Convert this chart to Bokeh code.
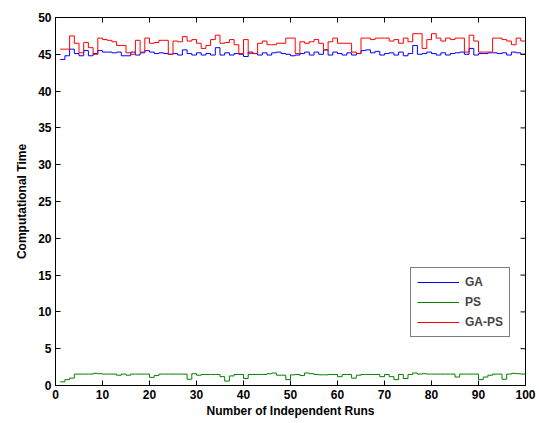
from bokeh.plotting import figure
from bokeh.models import Range1d, Legend, LegendItem, FixedTicker
from bokeh.embed import file_html
from bokeh.resources import INLINE

runs = list(range(1, 101))

ga = [44.3, 44.8, 45.7, 45.1, 44.8, 45.5, 44.8, 45.1, 45.5, 45.3,
      45.3, 45.2, 45.3, 44.8, 44.8, 45.3, 44.9, 45.2, 45.5, 45.3,
      45.1, 45.2, 45.1, 45.0, 45.1, 44.9, 45.6, 45.1, 44.9, 45.2,
      44.9, 45.1, 44.9, 45.9, 44.9, 45.2, 44.9, 45.1, 45.0, 44.7,
      45.3, 45.1, 44.9, 45.2, 44.9, 45.2, 45.3, 45.1, 45.0, 44.8,
      44.9, 45.1, 45.3, 44.9, 45.3, 45.0, 45.6, 44.9, 45.3, 45.1,
      44.9, 45.2, 44.9, 45.1, 45.5, 45.6, 45.2, 45.4, 44.9, 45.1,
      45.2, 44.9, 45.3, 44.8, 45.1, 46.2, 45.0, 45.1, 45.3, 45.1,
      44.9, 45.2, 44.9, 45.1, 45.2, 45.3, 45.0, 45.8, 44.9, 45.1,
      45.1, 45.2, 45.2, 45.1, 45.2, 44.9, 45.3, 45.2, 45.0, 45.0]

ps = [0.5, 0.8, 1.0, 1.55, 1.55, 1.55, 1.55, 1.65, 1.6, 1.55,
      1.55, 1.55, 1.4, 1.55, 1.4, 1.55, 1.55, 1.55, 1.55, 1.1,
      1.35, 1.55, 1.55, 1.55, 1.55, 1.55, 1.55, 0.85, 1.6, 1.4,
      1.5, 1.5, 1.5, 1.5, 1.2, 0.6, 1.3, 1.5, 1.5, 0.95,
      1.5, 1.5, 1.5, 1.5, 1.6, 1.7, 1.4, 1.4, 0.8, 1.45,
      1.5, 1.35, 1.7, 1.6, 1.5, 1.45, 1.45, 1.5, 1.5, 1.2,
      1.5, 1.5, 1.0, 1.4, 1.5, 1.5, 1.5, 1.5, 1.2, 1.5,
      1.2, 0.8, 1.5, 0.95, 1.5, 1.7, 1.55, 1.6, 1.55, 1.55,
      1.55, 1.55, 1.55, 1.55, 1.15, 1.55, 1.55, 1.55, 1.55, 0.8,
      1.15, 1.4, 1.55, 1.55, 0.85, 1.55, 1.65, 1.6, 1.55, 1.55]

gaps = [45.7, 45.7, 47.5, 46.5, 45.2, 46.6, 45.9, 45.0, 47.2, 47.0,
        46.9, 46.7, 46.2, 46.2, 45.2, 45.0, 46.9, 45.3, 47.2, 46.5,
        46.6, 46.9, 46.9, 45.0, 46.8, 46.7, 47.4, 46.8, 47.0, 46.5,
        45.8, 46.2, 47.0, 47.6, 46.5, 46.6, 47.0, 46.3, 45.1, 47.0,
        45.1, 45.1, 46.5, 46.8, 46.3, 46.3, 46.5, 46.5, 47.2, 47.2,
        45.1, 46.7, 46.5, 46.7, 47.0, 46.5, 45.6, 46.7, 47.2, 46.5,
        46.5, 46.5, 45.3, 45.1, 47.2, 47.2, 47.0, 47.2, 47.2, 47.2,
        46.8, 47.0, 46.5, 47.2, 46.7, 47.8, 47.8, 45.8, 47.0, 47.8,
        47.2, 46.8, 47.2, 47.0, 47.2, 47.2, 45.3, 47.6, 46.8, 45.3,
        45.3, 45.3, 47.2, 47.2, 47.0, 46.8, 46.3, 47.2, 46.8, 46.8]

x_ticks = list(range(0, 101, 10))
y_ticks = list(range(0, 51, 5))

FONT = "Liberation Sans"
X0, X1, Y0, Y1 = 0, 100, 0, 50
FRAME_W, FRAME_H = 470, 368
TICK_PX = 5

p = figure(width=539, height=423, output_backend="svg", toolbar_location=None,
           x_range=Range1d(X0, X1), y_range=Range1d(Y0, Y1),
           min_border_left=55, min_border_right=14, min_border_top=17,
           min_border_bottom=38)
p.background_fill_color = "white"
p.border_fill_color = "white"
p.outline_line_color = "black"
p.outline_line_width = 1
p.xgrid.visible = False
p.ygrid.visible = False

r_ga = p.step(runs, ga, mode="after", line_color="#0000FF", line_width=1)
r_ps = p.step(runs, ps, mode="after", line_color="#008000", line_width=1)
r_gaps = p.step(runs, gaps, mode="after", line_color="#FF0000", line_width=1)

# inward ticks on the top and right edges of the box (MATLAB style)
dy = TICK_PX * (Y1 - Y0) / FRAME_H
dx = TICK_PX * (X1 - X0) / FRAME_W
p.segment(x0=x_ticks, y0=[Y1] * len(x_ticks), x1=x_ticks, y1=[Y1 - dy] * len(x_ticks),
          line_color="black", line_width=1)
p.segment(x0=[X1] * len(y_ticks), y0=y_ticks, x1=[X1 - dx] * len(y_ticks), y1=y_ticks,
          line_color="black", line_width=1)

def style(ax, ticks):
    ax.ticker = FixedTicker(ticks=ticks)
    ax.major_tick_in = TICK_PX
    ax.major_tick_out = 0
    ax.minor_tick_line_color = None
    ax.axis_line_color = "black"
    ax.major_tick_line_color = "black"
    ax.major_label_text_font = FONT
    ax.major_label_text_font_style = "bold"
    ax.major_label_text_color = "black"
    ax.major_label_text_font_size = "12px"
    ax.axis_label_text_font = FONT
    ax.axis_label_text_font_style = "bold"
    ax.axis_label_text_font_size = "12px"
    ax.axis_label_text_color = "black"

p.xaxis.axis_label = "Number of Independent Runs"
p.yaxis.axis_label = "Computational Time"
style(p.xaxis[0], x_ticks)
style(p.yaxis[0], y_ticks)
p.xaxis[0].major_label_standoff = 4
p.yaxis[0].major_label_standoff = 4
p.xaxis[0].axis_label_standoff = 2
p.yaxis[0].axis_label_standoff = 6

legend = Legend(items=[LegendItem(label="GA", renderers=[r_ga]),
                       LegendItem(label="PS", renderers=[r_ps]),
                       LegendItem(label="GA-PS", renderers=[r_gaps])],
                location=(355, 48))
legend.border_line_color = "black"
legend.border_line_width = 1
legend.background_fill_color = "white"
legend.background_fill_alpha = 1
legend.label_text_font = FONT
legend.label_text_font_style = "bold"
legend.label_text_font_size = "12px"
legend.glyph_width = 42
legend.glyph_height = 16
legend.label_height = 16
legend.spacing = 4
legend.padding = 6
legend.margin = 0
legend.label_standoff = 6
p.add_layout(legend, "center")

open("out.html", "w").write(file_html(p, INLINE))
